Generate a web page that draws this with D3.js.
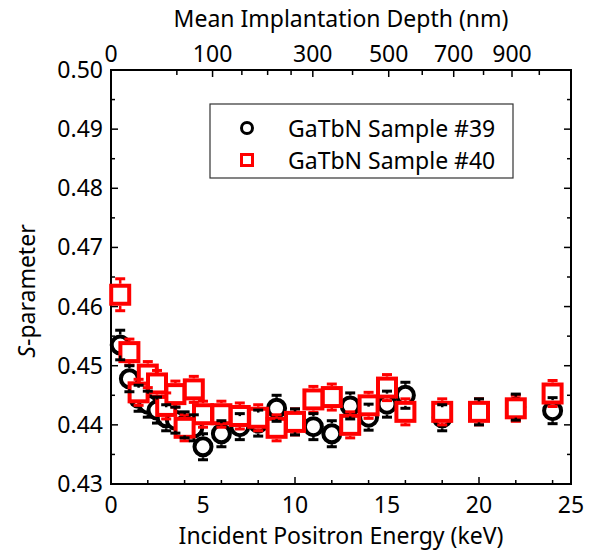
<!DOCTYPE html>
<html><head><meta charset="utf-8">
<script src="https://cdn.jsdelivr.net/npm/d3@7"></script>
<style>html,body{margin:0;padding:0;background:#fff;}svg{display:block;font-family:"Noto Sans","Open Sans",sans-serif;}</style>
</head><body>
<svg id="c" width="591" height="554"></svg>
<script>
const energy = [0.5,1,1.5,2,2.5,3,3.5,4,4.5,5,6,7,8,9,10,11,12,13,14,15,16,18,20,22,24];
const s39 = [0.4535,0.4478,0.4445,0.4435,0.4425,0.4412,0.4408,0.4400,0.4395,0.4363,0.4385,0.4397,0.4403,0.4428,0.4405,0.4397,0.4385,0.4432,0.4413,0.4435,0.4450,0.4412,0.4422,0.4430,0.4424];
const e39 = [0.0025,0.0022,0.0022,0.0022,0.0022,0.0022,0.0022,0.0022,0.0022,0.0022,0.0022,0.0022,0.0022,0.0022,0.0022,0.0022,0.0022,0.0022,0.0022,0.0022,0.0022,0.0022,0.0022,0.0022,0.0022];
const s40 = [0.4620,0.4523,0.4455,0.4485,0.4470,0.4432,0.4452,0.4395,0.4460,0.4418,0.4418,0.4415,0.4412,0.4395,0.4405,0.4443,0.4447,0.4400,0.4433,0.4463,0.4422,0.4422,0.4422,0.4428,0.4453];
const e40 = [0.0027,0.0022,0.0022,0.0022,0.0022,0.0022,0.0022,0.0022,0.0022,0.0022,0.0022,0.0022,0.0022,0.0022,0.0022,0.0022,0.0022,0.0022,0.0022,0.0022,0.0022,0.0022,0.0022,0.0022,0.0022];
const xTicks = [0,5,10,15,20,25];
const yTicks = [0.43,0.44,0.45,0.46,0.47,0.48,0.49,0.50];
const depthTicks = [0,100,200,300,400,500,600,700,800,900,1000];
const depthMinor = [50,150,250];
const depthLabels = [0,100,300,500,700,900];
const seriesNames = ["GaTbN Sample #39","GaTbN Sample #40"];

const svg = d3.select("#c");
const L=111,R=571,T=70,B=484;
const x = d3.scaleLinear().domain([0,25]).range([L,R]);
const y = d3.scaleLinear().domain([0.43,0.50]).range([B,T]);
const depthToE = z => Math.pow(z/6.5, 1/1.6);
const fs = 23;

// frame
svg.append("rect").attr("x",L).attr("y",T).attr("width",R-L).attr("height",B-T)
  .attr("fill","none").attr("stroke","#000").attr("stroke-width",2);

// bottom axis (inward ticks)
const bAx = svg.append("g");
x.ticks(10).forEach(v=>{
  const major = xTicks.includes(v);
  bAx.append("line").attr("x1",x(v)).attr("x2",x(v)).attr("y1",B).attr("y2",B-(major?7:4)).attr("stroke","#000").attr("stroke-width",1.5);
});
xTicks.forEach(v=>bAx.append("text").attr("x",x(v)).attr("y",B+29).attr("text-anchor","middle").attr("font-size",fs).attr("fill","#000").text(v));

// left/right axes
const lAx = svg.append("g");
y.ticks(14).forEach(v=>{
  const major = yTicks.some(t=>Math.abs(t-v)<1e-9);
  lAx.append("line").attr("x1",L).attr("x2",L+(major?7:4)).attr("y1",y(v)).attr("y2",y(v)).attr("stroke","#000").attr("stroke-width",1.5);
  lAx.append("line").attr("x1",R).attr("x2",R-(major?7:4)).attr("y1",y(v)).attr("y2",y(v)).attr("stroke","#000").attr("stroke-width",1.5);
});
yTicks.forEach(v=>lAx.append("text").attr("x",L-8).attr("y",y(v)+8).attr("text-anchor","end").attr("font-size",fs).attr("fill","#000").text(v.toFixed(2)));

// top axis (depth)
const tAx = svg.append("g");
depthTicks.concat(depthMinor).forEach(z=>{
  const xx = x(depthToE(z));
  if (xx>R+0.5) return;
  const major = depthLabels.includes(z);
  tAx.append("line").attr("x1",xx).attr("x2",xx).attr("y1",T).attr("y2",T+(major?7:5)).attr("stroke","#000").attr("stroke-width",1.5);
});
depthLabels.forEach(z=>tAx.append("text").attr("x",x(depthToE(z))).attr("y",T-8).attr("text-anchor","middle").attr("font-size",fs).attr("fill","#000").text(z));

// titles
svg.append("text").attr("x",(L+R)/2).attr("y",544).attr("text-anchor","middle").attr("font-size",fs).text("Incident Positron Energy (keV)");
svg.append("text").attr("x",(L+R)/2).attr("y",27).attr("text-anchor","middle").attr("font-size",fs).text("Mean Implantation Depth (nm)");
const yt = svg.append("text").attr("transform",`translate(35,291) rotate(-90)`).attr("text-anchor","middle").attr("font-size",fs);
yt.append("tspan").attr("font-style","italic").text("S");
yt.append("tspan").text("-parameter");

// data
const d39 = energy.map((e,i)=>({e,v:s39[i],err:e39[i]}));
const d40 = energy.map((e,i)=>({e,v:s40[i],err:e40[i]}));
const rC = 8.5, hS = 9;

function errBars(g, data, color, inner){
  data.forEach(d=>{
    const cx = x(d.e), cy = y(d.v), yt = y(d.v+d.err), yb = y(d.v-d.err);
    if (yt < cy-inner) g.append("line").attr("x1",cx).attr("x2",cx).attr("y1",yt).attr("y2",cy-inner).attr("stroke",color).attr("stroke-width",2.5);
    if (yb > cy+inner) g.append("line").attr("x1",cx).attr("x2",cx).attr("y1",cy+inner).attr("y2",yb).attr("stroke",color).attr("stroke-width",2.5);
    g.append("line").attr("x1",cx-5).attr("x2",cx+5).attr("y1",yt).attr("y2",yt).attr("stroke",color).attr("stroke-width",3);
    g.append("line").attr("x1",cx-5).attr("x2",cx+5).attr("y1",yb).attr("y2",yb).attr("stroke",color).attr("stroke-width",3);
  });
}

const gC = svg.append("g");
gC.selectAll("circle").data(d39).join("circle").attr("cx",d=>x(d.e)).attr("cy",d=>y(d.v)).attr("r",rC)
  .attr("fill","#fff").attr("stroke","#000").attr("stroke-width",4);
const gS = svg.append("g");
gS.selectAll("rect").data(d40).join("rect").attr("x",d=>x(d.e)-hS).attr("y",d=>y(d.v)-hS).attr("width",2*hS).attr("height",2*hS)
  .attr("fill","#fff").attr("stroke","#ff0000").attr("stroke-width",4);
errBars(svg.append("g"), d40, "#ff0000", hS+2);
errBars(svg.append("g"), d39, "#000", rC+2);

// legend
const lg = svg.append("g");
lg.append("rect").attr("x",210).attr("y",104).attr("width",303).attr("height",74).attr("fill","#fff").attr("stroke","#333").attr("stroke-width",1.2);
lg.append("circle").attr("cx",247).attr("cy",128).attr("r",5.5).attr("fill","#fff").attr("stroke","#000").attr("stroke-width",3);
lg.append("rect").attr("x",241.5).attr("y",154.5).attr("width",11).attr("height",11).attr("fill","#fff").attr("stroke","#ff0000").attr("stroke-width",3);
lg.append("text").attr("x",288).attr("y",137).attr("font-size",fs).text(seriesNames[0]);
lg.append("text").attr("x",288).attr("y",169).attr("font-size",fs).text(seriesNames[1]);
</script>
</body></html>
